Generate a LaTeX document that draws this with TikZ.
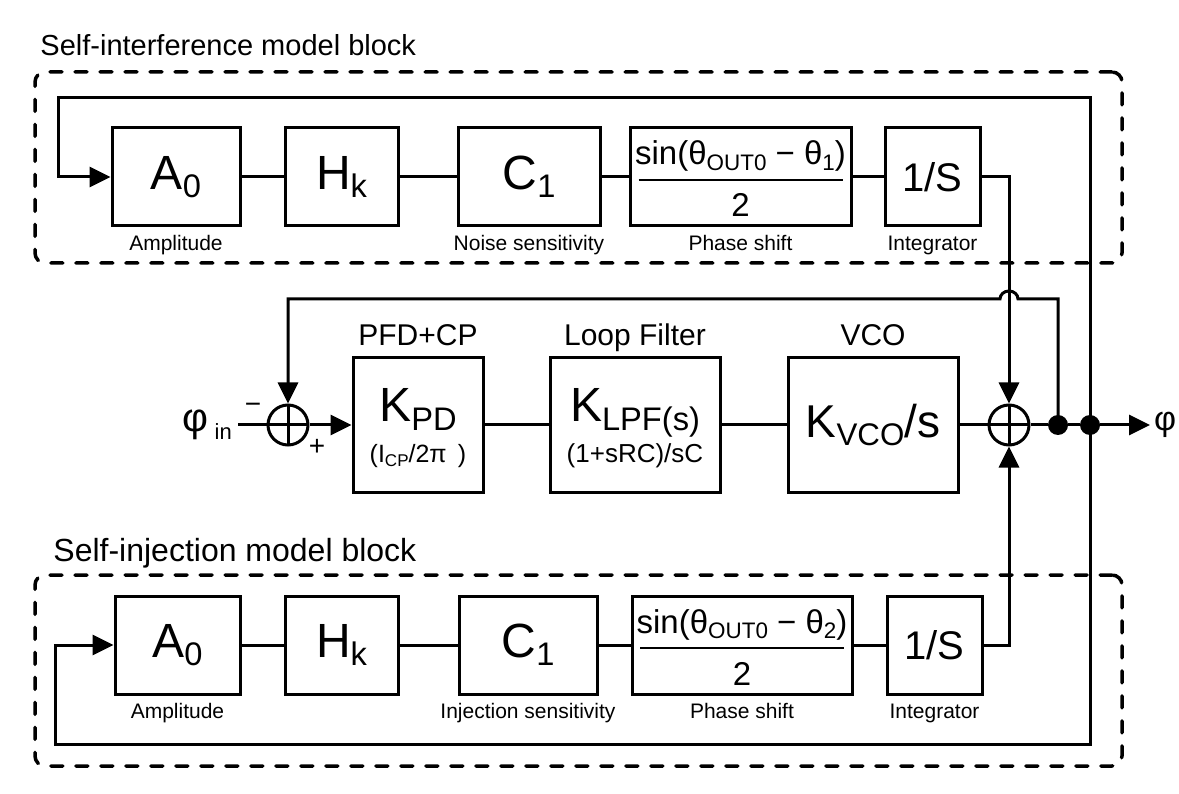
\documentclass[tikz,border=0pt]{standalone}
\usepackage{fontspec}
\setmainfont{Liberation Sans}
\usetikzlibrary{arrows.meta,positioning}

\newcommand{\fsz}[1]{\fontsize{#1}{#1}\selectfont}
\newcommand{\lowsub}[1]{\raisebox{-0.17em}{\scalebox{0.68}{#1}}}

\begin{document}
\begin{tikzpicture}[x=1pt, y=-1pt,
  wire/.style={line width=3pt},
  arrowed/.style={-{Triangle[length=21pt,width=20pt]}},
  block/.style={draw, line width=3pt, inner sep=0pt, minimum height=98pt},
  midblock/.style={draw, line width=3pt, inner sep=0pt, minimum width=170pt, minimum height=134pt},
  sumj/.style={circle, draw, line width=3pt, minimum size=40pt, inner sep=0pt,
    path picture={\draw[line width=3pt] (path picture bounding box.north) -- (path picture bounding box.south)
      (path picture bounding box.west) -- (path picture bounding box.east);}},
  joint/.style={circle, fill, inner sep=0pt, minimum size=20pt},
  modelbox/.style={draw, dash pattern=on 12pt off 13pt, line cap=round, line width=3.5pt,
    rounded corners=10pt, minimum width=1087pt, minimum height=191pt},
  caplab/.style={font=\fsz{21}, inner sep=0pt, text height=15pt},
  stagelab/.style={font=\fsz{30}, inner sep=0pt, text depth=0pt},
  blocktitle/.style={inner sep=0pt, anchor=base west},
  symb/.style={inner sep=0pt, anchor=base}
]
\useasboundingbox (0,0) rectangle (1179,794);

% model blocks
\node[modelbox] (sibox) at (578.5,167.5) {};
\node[blocktitle, font=\fsz{29}] (sititle) at ([xshift=7pt,yshift=15pt]sibox.north west) {Self-interference model block};
\node[modelbox] (sjbox) at (578.5,670.5) {};
\node[blocktitle, font=\fsz{32}] (sjtitle) at ([xshift=20pt,yshift=12pt]sjbox.north west) {Self-injection model block};

% self-interference row
\node[block, minimum width=128pt, font=\fsz{48}] (a1) at (176,177) {A\lowsub{0}};
\node[block, minimum width=113pt, font=\fsz{48}] (h1) at (341.5,177) {H\lowsub{k}};
\node[block, minimum width=142pt, font=\fsz{48}] (c1) at (529,177) {C\lowsub{1}};
\node[block, minimum width=221pt] (p1) at (740.5,177) {};
\node[block, minimum width=95pt, font=\fsz{40}] (i1) at (932.5,177) {1/S};
\node[symb, font=\fsz{33}] (p1num) at ([yshift=12pt]p1.center) {sin(θ\lowsub{OUT0} − θ\lowsub{1})};
\draw[line width=2.5pt] ([xshift=-102pt,yshift=-3pt]p1.center) -- ([xshift=102pt,yshift=-3pt]p1.center);
\node[symb, font=\fsz{33}] (p1den) at ([yshift=-40pt]p1.center) {2};
\node[caplab, below=8pt of a1] (a1lab) {Amplitude};
\node[caplab, below=8pt of c1] (c1lab) {Noise sensitivity};
\node[caplab, below=8pt of p1] (p1lab) {Phase shift};
\node[caplab, below=8pt of i1] (i1lab) {Integrator};

% PLL row
\node[sumj] (s1) at (288,425) {};
\node[midblock, minimum width=130pt] (kpd) at (418,425) {};
\node[midblock] (klpf) at (635,425) {};
\node[midblock, font=\fsz{46}] (kvco) at (873,425) {K\lowsub{VCO}/s};
\node[sumj] (s2) at (1009,425) {};
\node[joint] (d1) at (1058,425) {};
\node[joint] (d2) at (1090,425) {};
\node[symb, font=\fsz{48}] (kpdk) at ([yshift=3pt]kpd.center) {K\lowsub{PD}};
\node[symb, font=\fsz{25}] (kpdi) at ([yshift=-37pt]kpd.center) {(I\lowsub{CP}/2π\hspace{0.45em})};
\node[symb, font=\fsz{48}] (klpfk) at ([yshift=3pt]klpf.center) {K\lowsub{LPF(s)}};
\node[symb, font=\fsz{26}] (klpfr) at ([yshift=-37pt]klpf.center) {(1+sRC)/sC};
\node[stagelab, above=11pt of kpd] (pfdlab) {PFD+CP};
\node[stagelab, above=11pt of klpf] (lflab) {Loop Filter};
\node[stagelab, above=11pt of kvco] (vcolab) {VCO};
\node[font=\fsz{28}, inner sep=0pt] (minus) at ([xshift=-35pt,yshift=17pt]s1.center) {−};
\node[font=\fsz{28}, inner sep=0pt] (plus) at ([xshift=29pt,yshift=-22pt]s1.center) {+};

\coordinate (in) at (238,425);
\coordinate (out) at (1150,425);
\coordinate (fb) at (d1 |- 0,299);
\coordinate (tl) at (58,98);
\coordinate (bl) at (55,744);
\node[anchor=east, inner sep=0pt, font=\fsz{40}] (phin) at ([xshift=-6pt]in) {φ\,\raisebox{-0.2em}{\fsz{22}in}};
\node[anchor=west, inner sep=0pt, font=\fsz{34}] (phout) at ([xshift=4pt]out) {φ};

% self-injection row
\node[block, minimum width=125pt, font=\fsz{48}] (a2) at (177.5,645) {A\lowsub{0}};
\node[block, minimum width=113pt, font=\fsz{48}] (h2) at (341.5,645) {H\lowsub{k}};
\node[block, minimum width=138pt, font=\fsz{48}] (c2) at (528,645) {C\lowsub{1}};
\node[block, minimum width=220pt] (p2) at (742,645) {};
\node[block, minimum width=95pt, font=\fsz{40}] (i2) at (934.5,645) {1/S};
\node[symb, font=\fsz{33}] (p2num) at ([yshift=12pt]p2.center) {sin(θ\lowsub{OUT0} − θ\lowsub{2})};
\draw[line width=2.5pt] ([xshift=-102pt,yshift=-3pt]p2.center) -- ([xshift=102pt,yshift=-3pt]p2.center);
\node[symb, font=\fsz{33}] (p2den) at ([yshift=-40pt]p2.center) {2};
\node[caplab, below=8pt of a2] (a2lab) {Amplitude};
\node[caplab, below=8pt of c2] (c2lab) {Injection sensitivity};
\node[caplab, below=8pt of p2] (p2lab) {Phase shift};
\node[caplab, below=8pt of i2] (i2lab) {Integrator};

% connections
\path[wire]
  (a1) edge (h1)  (h1) edge (c1)  (c1) edge (p1)  (p1) edge (i1)
  (a2) edge (h2)  (h2) edge (c2)  (c2) edge (p2)  (p2) edge (i2)
  (in) edge (s1)  (kpd) edge (klpf)  (klpf) edge (kvco)  (kvco) edge (s2)
  (s2) edge (d1)  (d1) edge (d2);
\draw[wire,arrowed] (s1) -- (kpd);
\draw[wire,arrowed] (d2) -- (out);
\draw[wire,arrowed] (i1.east) -| (s2.north);
\draw[wire,arrowed] (i2.east) -| (s2.south);
\draw[wire,arrowed] (d1.center) -- (fb) -- ([xshift=9pt]s2 |- fb)
  arc[start angle=0, end angle=180, x radius=9pt, y radius=8pt] -- (s1 |- fb) -- (s1.north);
\draw[wire,arrowed] (d2.center) |- (tl) |- (a1.west);
\draw[wire,arrowed] (d2.center) |- (bl) |- (a2.west);
\end{tikzpicture}
\end{document}
